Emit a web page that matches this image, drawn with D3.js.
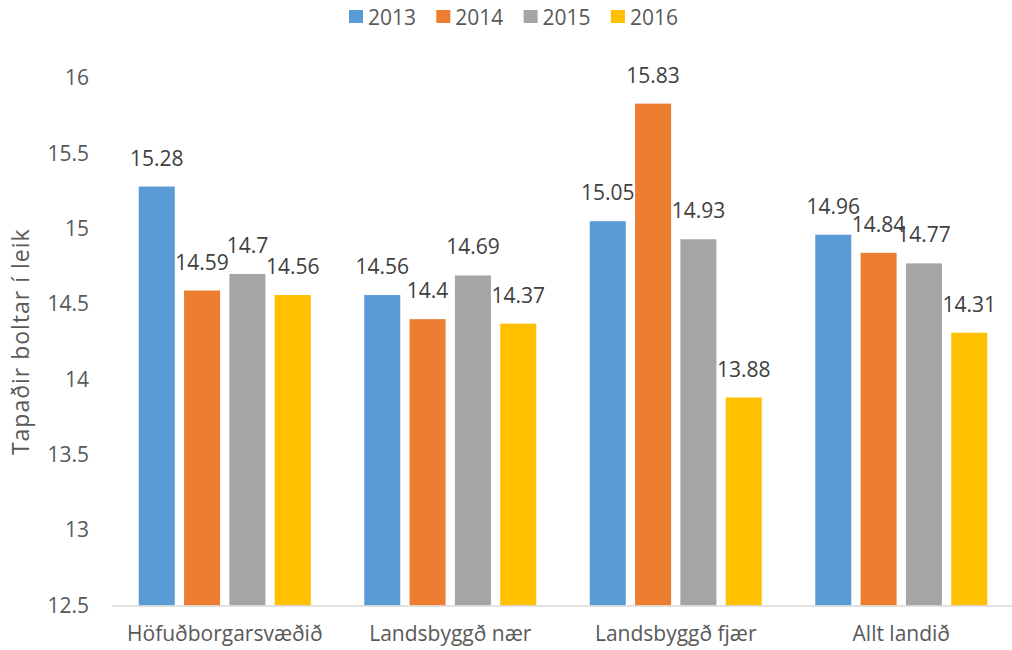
<!DOCTYPE html>
<html>
<head>
<meta charset="utf-8">
<script src="https://cdn.jsdelivr.net/npm/d3@7"></script>
<style>
  body { margin: 0; background: #fff; }
  svg { display: block; font-family: "Open Sans", sans-serif; }
</style>
</head>
<body>
<svg id="chart"></svg>
<script>
// Data
const categories = ["Höfuðborgarsvæðið", "Landsbyggð nær", "Landsbyggð fjær", "Allt landið"];
const years = ["2013", "2014", "2015", "2016"];
const values2013 = [15.28, 14.56, 15.05, 14.96];
const values2014 = [14.59, 14.4, 15.83, 14.84];
const values2015 = [14.7, 14.69, 14.93, 14.77];
const values2016 = [14.56, 14.37, 13.88, 14.31];
const yTicks = [12.5, 13, 13.5, 14, 14.5, 15, 15.5, 16];
const yTitle = "Tapaðir boltar í leik";

const seriesValues = [values2013, values2014, values2015, values2016];
const colors = ["#5B9BD5", "#ED7D31", "#A5A5A5", "#FFC000"];

let width = 1012,
  height = 650,
  margin = { top: 78, right: 0, bottom: 44, left: 112 },
  fontSize = "21px";

const svg = d3.select("#chart").attr("width", width).attr("height", height);

// Scales
const x0 = d3.scaleBand().domain(categories).range([margin.left, 1014]);
const x1 = d3.scaleBand().domain(years).range([0, x0.bandwidth()])
  .paddingInner(0.205).paddingOuter(0.59);
const y = d3.scaleLinear().domain([12.5, 16]).range([height - margin.bottom - 0.5, margin.top]);

// Y axis tick labels (no axis line)
const yAxis = svg.append("g")
  .attr("transform", "translate(" + margin.left + ",0)")
  .call(d3.axisLeft(y).tickValues(yTicks).tickSize(0).tickPadding(23).tickFormat(d3.format("")));
yAxis.select(".domain").remove();
yAxis.selectAll("text")
  .attr("fill", "#595959")
  .style("font-size", fontSize)
  .style("font-family", "Open Sans, sans-serif");

// Axis title
svg.append("text")
  .attr("transform", "translate(29," + (y(12.5) + y(16)) / 2 + ") rotate(-90)")
  .attr("text-anchor", "middle")
  .attr("fill", "#595959")
  .style("font-size", "23px")
  .style("letter-spacing", "1px")
  .text(yTitle);

// Bars
const groups = svg.selectAll("g.group")
  .data(categories)
  .enter()
  .append("g")
  .attr("class", "group")
  .attr("transform", d => "translate(" + x0(d) + ",0)");

years.forEach((yr, s) => {
  groups.append("rect")
    .attr("x", x1(yr))
    .attr("width", x1.bandwidth())
    .attr("y", (d, i) => y(seriesValues[s][i]))
    .attr("height", (d, i) => y(12.5) - y(seriesValues[s][i]))
    .attr("fill", colors[s]);

  groups.append("text")
    .attr("x", x1(yr) + x1.bandwidth() / 2)
    .attr("y", (d, i) => y(seriesValues[s][i]) - 21)
    .attr("text-anchor", "middle")
    .attr("fill", "#404040")
    .style("font-size", fontSize)
    .text((d, i) => seriesValues[s][i]);
});

// X axis baseline and category labels
const xAxis = svg.append("g")
  .attr("transform", "translate(0," + y(12.5) + ")")
  .call(d3.axisBottom(x0).tickSize(0).tickPadding(21));
xAxis.select(".domain").attr("stroke", "#D9D9D9").attr("stroke-width", 1.5);
xAxis.selectAll("text")
  .attr("fill", "#595959")
  .style("font-size", fontSize)
  .style("font-family", "Open Sans, sans-serif");

// Legend
const legend = svg.append("g").attr("transform", "translate(349,0)");
years.forEach((yr, i) => {
  const item = legend.append("g").attr("transform", "translate(" + i * 87.3 + ",0)");
  item.append("rect")
    .attr("x", 0).attr("y", 10)
    .attr("width", 14).attr("height", 13)
    .attr("fill", colors[i]);
  item.append("text")
    .attr("x", 19).attr("y", 24.5)
    .attr("fill", "#595959")
    .style("font-size", fontSize)
    .text(yr);
});
</script>
</body>
</html>
